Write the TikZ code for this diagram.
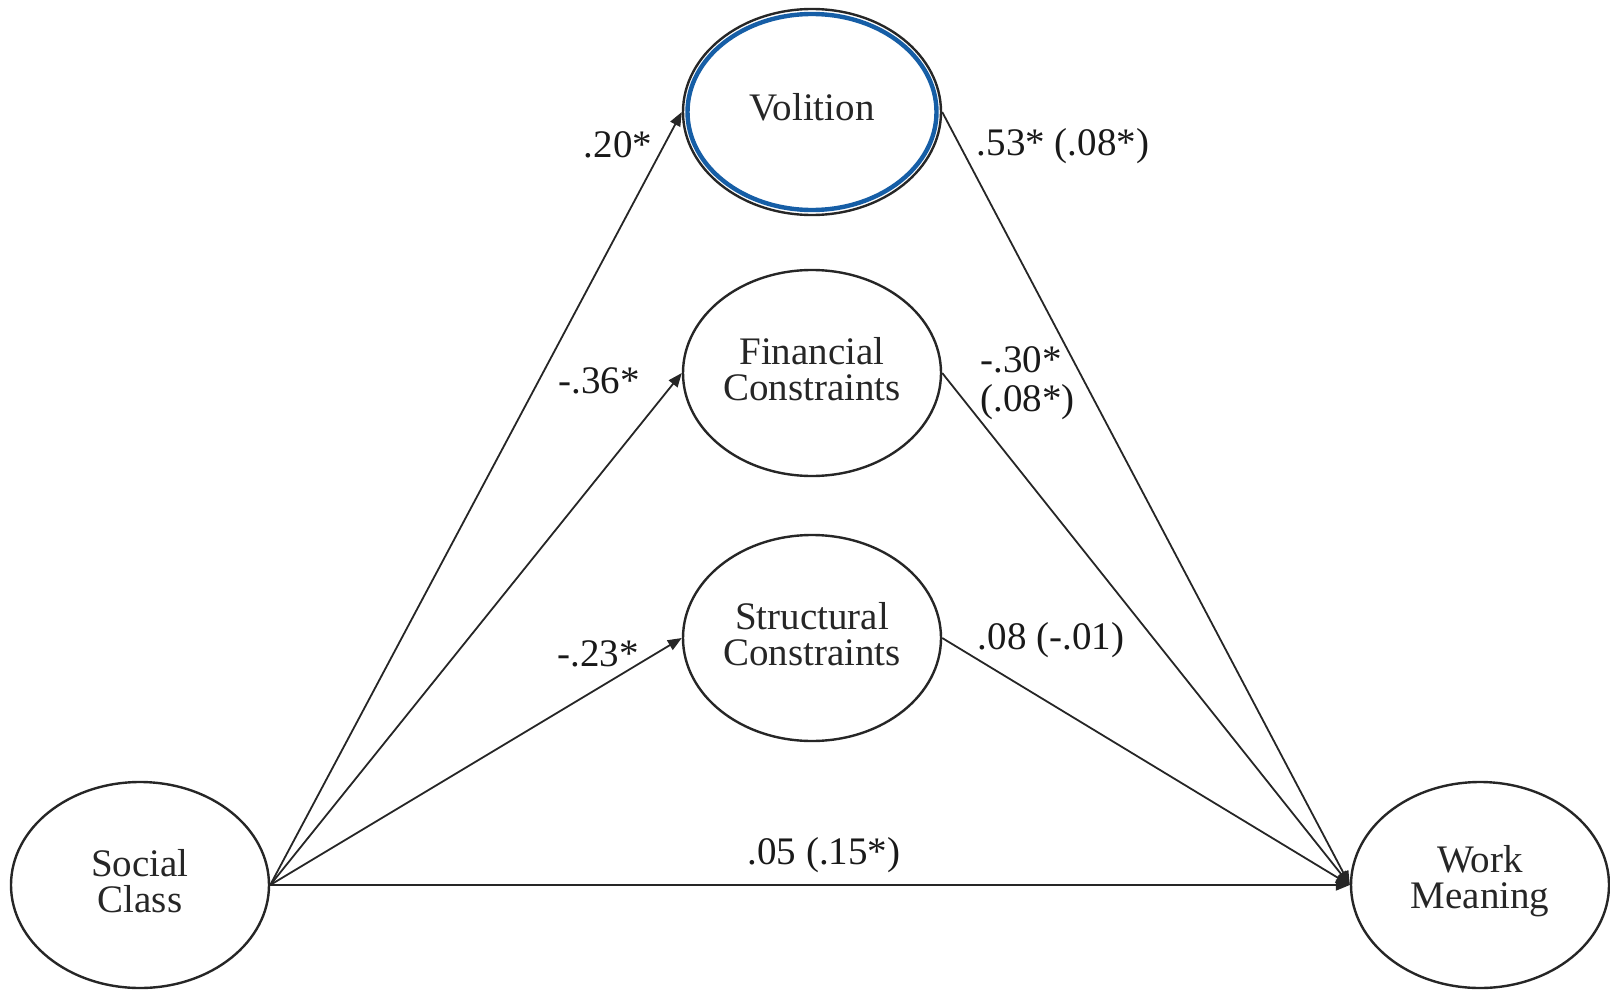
\documentclass[tikz,border=0pt]{standalone}
\usepackage{fontspec}
\setmainfont{Liberation Serif}
\usetikzlibrary{shapes.geometric,arrows.meta}
\definecolor{volblue}{RGB}{22,94,166}
\begin{document}
\begin{tikzpicture}[x=0.5pt,y=-0.5pt,
  var/.style={ellipse,draw=black!85,line width=1.2pt,minimum width=129pt,minimum height=103pt,inner sep=0pt},
  vtext/.style={align=center,font={\fontsize{19.5}{18}\selectfont},text=black!85,inner sep=0pt},
  lab/.style={font={\fontsize{19.5}{19.5}\selectfont},text=black!90,inner sep=0pt,align=left},
  path/.style={draw=black!85,line width=0.9pt,-{Triangle[length=7pt,width=5.5pt]}}]
\useasboundingbox (0,0) rectangle (1610,990);
\node[var] (vol) at (812,112) {};
\draw[volblue,line width=2.2pt] (vol.center) ellipse [x radius=124.5, y radius=98];
\node[var] (fin) at (812,373) {};
\node[var] (str) at (812,638) {};
\node[var] (sc) at (140,885) {};
\node[var] (wm) at (1480,885) {};
\node[vtext] (volt) at (812,107) {Volition};
\node[vtext] (fint) at (812,369) {Financial\\Constraints};
\node[vtext] (strt) at (812,634) {Structural\\Constraints};
\node[vtext] (sct) at (140,881) {Social\\Class};
\node[vtext] (wmt) at (1480,881) {Work\\Meaning};
\draw[path] (sc.east) -- (vol.west);
\draw[path] (sc.east) -- (fin.west);
\draw[path] (sc.east) -- (str.west);
\draw[path] (sc.east) -- (wm.west);
\draw[path] (vol.east) -- (wm.west);
\draw[path] (fin.east) -- (wm.west);
\draw[path] (str.east) -- (wm.west);
\node[lab] (l1) at (618,145) {.20*};
\node[lab] (l2) at (1063,146) {.53* (.08*)};
\node[lab] (l3) at (599,381) {-.36*};
\node[lab,anchor=west] (l4) at (980,383) {-.30*\\(.08*)};
\node[lab] (l5) at (598,654) {-.23*};
\node[lab] (l6) at (1051,640) {.08 (-.01)};
\node[lab] (l7) at (824,855) {.05 (.15*)};
\end{tikzpicture}
\end{document}
